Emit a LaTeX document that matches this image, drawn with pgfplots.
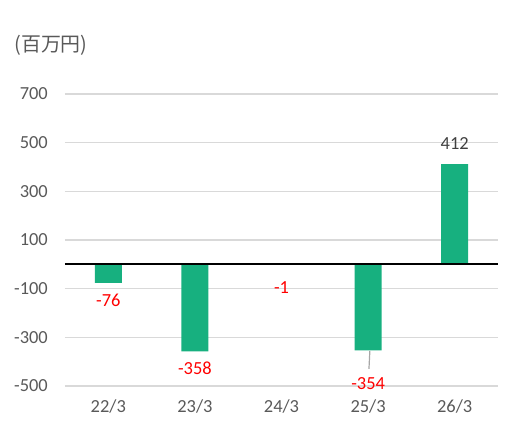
\documentclass[border=0pt]{standalone}
\usepackage{fontspec}
\setmainfont{Carlito}
\newfontfamily\cjk{Noto Sans CJK JP}
\usepackage{pgfplots}
\pgfplotsset{compat=1.18}
\definecolor{barg}{HTML}{17B07F}
\definecolor{gridgray}{HTML}{D9D9D9}
\definecolor{tickgray}{HTML}{595959}
\definecolor{lblgray}{HTML}{404040}
\definecolor{leader}{HTML}{A6A6A6}
\begin{document}
\begin{tikzpicture}[font=\fontsize{18.5}{22}\selectfont]
\begin{axis}[
  at={(0,0)}, anchor=south west,
  scale only axis, width=433bp, height=292bp,
  xmin=-0.5, xmax=4.5, ymin=-500, ymax=700,
  ytick={-500,-300,-100,100,300,500,700},
  xtick={0,1,2,3,4},
  xticklabels={22/3,23/3,24/3,25/3,26/3},
  axis line style={draw=none},
  major tick length=0pt,
  ymajorgrids,
  grid style={color=gridgray, line width=1.2bp},
  /pgf/number format/assume math mode=true,
  tick label style={text=tickgray, font=\fontsize{18.5}{22}\selectfont},
  yticklabel style={inner sep=0pt, anchor=east, xshift=-17bp},
  xticklabel style={inner sep=0pt, anchor=north, yshift=-14bp},
  clip=false,
]
\addplot[ybar, bar width=27bp, fill=barg, draw=none] coordinates {(0,-76) (1,-358) (2,-1) (3,-354) (4,412)};
\addplot[black, line width=1.8bp, mark=none] coordinates {(-0.5,0) (4.5,0)};
\addplot[leader, line width=1.2bp, mark=none] coordinates {(3.02,-356) (3.01,-430)};
\addplot[draw=none, mark=none, nodes near coords, point meta=explicit symbolic,
  nodes near coords style={anchor=center, text=red, font=\fontsize{18.5}{22}\selectfont}]
  coordinates {(0,-148)[-76] (1,-427)[-358] (2,-94)[-1] (3,-489)[-354]};
\addplot[draw=none, mark=none, nodes near coords, point meta=explicit symbolic,
  nodes near coords style={anchor=center, text=lblgray, font=\fontsize{18.5}{22}\selectfont}]
  coordinates {(4,497)[412]};
\end{axis}
\node[anchor=center, inner sep=0pt, text=tickgray, font=\cjk\fontsize{20}{24}\selectfont] at (-14bp,340.5bp) {(百万円)};
\pgfresetboundingbox
\useasboundingbox (-65bp,-48bp) rectangle (458bp,386bp);
\end{tikzpicture}
\end{document}
